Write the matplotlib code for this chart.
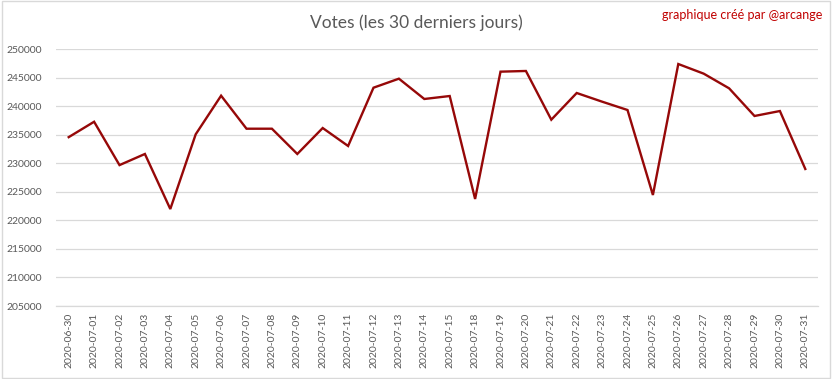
import matplotlib
matplotlib.use("Agg")
import matplotlib.pyplot as plt
from matplotlib.patches import Rectangle

# Data
dates = ["2020-06-30", "2020-07-01", "2020-07-02", "2020-07-03", "2020-07-04",
         "2020-07-05", "2020-07-06", "2020-07-07", "2020-07-08", "2020-07-09",
         "2020-07-10", "2020-07-11", "2020-07-12", "2020-07-13", "2020-07-14",
         "2020-07-15", "2020-07-18", "2020-07-19", "2020-07-20", "2020-07-21",
         "2020-07-22", "2020-07-23", "2020-07-24", "2020-07-25", "2020-07-26",
         "2020-07-27", "2020-07-28", "2020-07-29", "2020-07-30", "2020-07-31"]
votes = [234600, 237300, 229700, 231650, 222000,
         235100, 241870, 236080, 236080, 231650,
         236200, 233050, 243270, 244850, 241290,
         241810, 223760, 246080, 246200, 237660,
         242340, 240820, 239360, 224460, 247420,
         245730, 243160, 238310, 239180, 229020]
y_ticks = list(range(205000, 250001, 5000))

plt.rcParams['font.family'] = ['Lato', 'DejaVu Sans']
grey_text = "#595959"

fig = plt.figure(figsize=(8.32, 3.79), dpi=100)
ax = fig.add_axes([56 / 832, 1 - 306 / 379, 762 / 832, (306 - 49.3) / 379])

x = list(range(len(dates)))
ax.plot(x, votes, color="#960808", linewidth=1.7, solid_joinstyle="miter")

ax.set_xlim(-0.5, len(dates) - 0.5)
ax.set_ylim(205000, 250000)
ax.set_yticks(y_ticks)
ax.set_yticklabels([str(v) for v in y_ticks], color=grey_text, fontsize=7.5)
ax.set_xticks(x)
ax.set_xticklabels(dates, rotation=90, color=grey_text, fontsize=7.5)
ax.tick_params(axis="both", length=0)
ax.tick_params(axis="y", pad=10)
ax.tick_params(axis="x", pad=5)

ax.grid(axis="y", color="#d9d9d9", linewidth=0.9)
ax.set_axisbelow(True)
for side in ["top", "right", "left"]:
    ax.spines[side].set_visible(False)
ax.spines["bottom"].set_color("#d9d9d9")
ax.spines["bottom"].set_linewidth(0.9)

fig.text(416 / 832, 1 - 23 / 379, "Votes (les 30 derniers jours)", ha="center", va="center",
         fontsize=12.5, color=grey_text)
fig.text(822 / 832, 1 - 15 / 379, "graphique créé par @arcange", ha="right", va="center",
         fontsize=9, color="#c00000")

# light chart border
fig.patches.append(Rectangle((0.002, 0.003), 0.996, 0.994, transform=fig.transFigure,
                             fill=False, edgecolor="#d9d9d9", linewidth=1))

fig.savefig("out.png", dpi=100, facecolor="white")
